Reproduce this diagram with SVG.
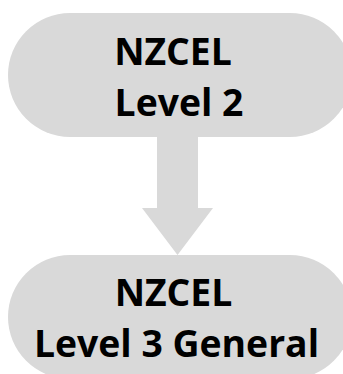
<svg xmlns="http://www.w3.org/2000/svg" width="343" height="374" viewBox="0 0 343 374">
<style>
.node{fill:#d9d9d9}
.conn{fill:#d9d9d9}
text{font-family:"Open Sans","Liberation Sans",sans-serif;font-weight:bold;font-size:37.33px;fill:#000;text-anchor:middle}
</style>
<rect width="343" height="374" fill="#fff"/>
<g id="connectors">
<polygon class="conn" points="157,136 198,136 198,208 213,208 177.5,255 142,208 157,208"/>
</g>
<g id="node-level2">
<rect class="node" x="8" y="13" width="344" height="124" rx="62" ry="62"/>
<text x="173" y="65">NZCEL</text>
<text x="179" y="116">Level 2</text>
</g>
<g id="node-level3">
<rect class="node" x="8" y="255" width="344" height="124" rx="62" ry="62"/>
<text x="173.5" y="305.5">NZCEL</text>
<text x="176.5" y="357">Level 3 General</text>
</g>
</svg>
